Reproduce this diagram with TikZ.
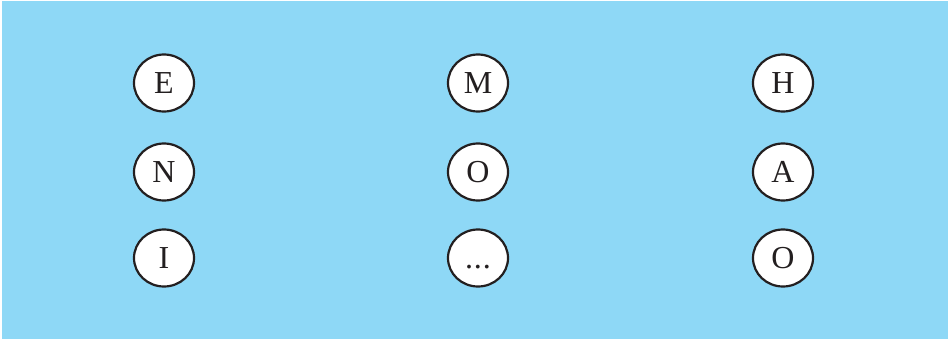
\documentclass[tikz,border=0pt]{standalone}
\usepackage{fontspec}
\setmainfont{Liberation Serif}
\usetikzlibrary{shapes.geometric}
\definecolor{sfondo}{RGB}{142,216,246}
\definecolor{bordo}{RGB}{35,31,32}
\tikzset{
  lettera/.style={ellipse, draw=bordo, line width=1.1pt, fill=white,
    minimum width=30pt, minimum height=28.5pt, inner sep=0pt,
    text height=10.5pt, text depth=0pt,
    font=\fontsize{16}{16}\selectfont, text=bordo}
}
\begin{document}
\begin{tikzpicture}[x=0.5pt, y=0.5pt]
    % Riquadro
    \useasboundingbox (0,0) rectangle (948,339);
    \fill[white] (0,0) rectangle (948,339);
    \fill[sfondo] (2,0) rectangle (948,338);

    % Prima colonna
    \node[lettera] (e) at (164,256) {E};
    \node[lettera] (n) at (164,167) {N};
    \node[lettera] (i) at (164,81) {I};

    % Seconda colonna
    \node[lettera] (m) at (478,256) {M};
    \node[lettera] (o) at (478,167) {O};
    \node[lettera] (puntini) at (478,81) {.\kern0.4pt.\kern0.4pt.};

    % Terza colonna
    \node[lettera] (h) at (783,256) {H};
    \node[lettera] (a) at (783,167) {A};
    \node[lettera] (oo) at (783,81) {O};
\end{tikzpicture}
\end{document}
